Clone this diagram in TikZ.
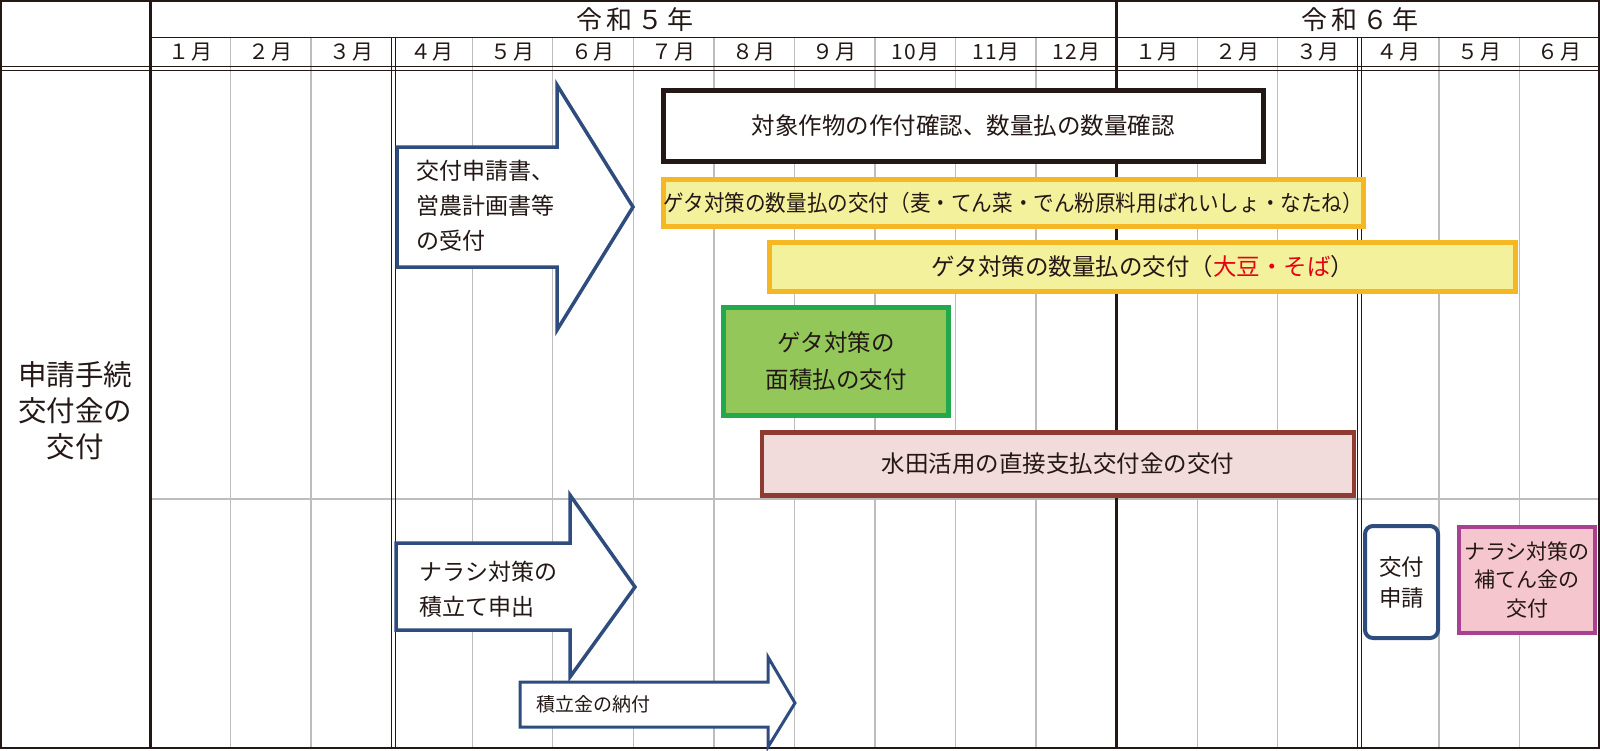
\documentclass[tikz,border=0pt]{standalone}
\usepackage{fontspec}
\setmainfont{Noto Sans CJK JP}
\definecolor{ink}{HTML}{231815}
\definecolor{navy}{HTML}{2F4C7E}
\definecolor{gridgray}{HTML}{BDBDBD}
\definecolor{yelfill}{HTML}{F4F19C}
\definecolor{yelline}{HTML}{F5B823}
\definecolor{grnfill}{HTML}{93C75A}
\definecolor{grnline}{HTML}{22A94C}
\definecolor{brnfill}{HTML}{F2DCDB}
\definecolor{brnline}{HTML}{8E3B33}
\definecolor{magfill}{HTML}{F5C6CD}
\definecolor{magline}{HTML}{A8418F}
\definecolor{redtxt}{HTML}{E60012}
\newcommand{\fsz}[1]{\fontsize{#1}{#1}\selectfont}
\begin{document}
\begin{tikzpicture}[x=1pt, y=-1pt, text=ink,
    gridline/.style={draw=gridgray, line width=1.3pt},
    rule/.style={draw=ink, line width=1.2pt},
    blockarrow/.style={draw=navy, line width=3.5pt, fill=white, line join=miter},
    bar/.style={draw, line width=5pt, inner sep=0pt, align=center},
    month/.style={font=\fsz{21}\addfontfeature{LetterSpace=8}},
    arrowtext/.style={anchor=west, align=left, font=\fontsize{23}{35}\selectfont}]
\useasboundingbox (0,0) rectangle (1600,750);

% grid
\foreach \i in {1,2,4,5,6,7,8,9,10,11,13,14,16,17}
    \draw[gridline] ({150+\i*80.556},37.7) -- ({150+\i*80.556},748);
\draw[gridline] (150,499) -- (1600,499);

% frame and header rules
\draw[rule, line width=1.6pt] (0.8,0.8) rectangle (1599.2,748.2);
\draw[rule] (150,37.7) -- (1600,37.7);
\draw[rule] (0,66.7) -- (1600,66.7);
\draw[rule] (0,70.2) -- (1600,70.2);
\draw[rule, line width=3pt] (150.5,0) -- (150.5,748);
\draw[rule, line width=2.8pt] (1116.7,0) -- (1116.7,748);
\foreach \x in {391.7,395.2,1357.8,1361.3}
    \draw[rule] (\x,37.7) -- (\x,748);

% header texts
\node[font=\fsz{26}\addfontfeature{LetterSpace=16}] (r5) at (635,20) {令和５年};
\node[font=\fsz{26}\addfontfeature{LetterSpace=16}] (r6) at (1360,20) {令和６年};
\foreach \m [count=\i] in {１月,２月,３月,４月,５月,６月,７月,８月,９月,10月,11月,12月,１月,２月,３月,４月,５月,６月}
    \node[month] (m\i) at ({150+(\i-0.5)*80.556},52) {\m};

\node[font=\fontsize{28.5}{36}\selectfont, align=center] (proc) at (75,411) {申請手続\\交付金の\\交付};

% upper section
\draw[blockarrow] (397,147) -- (557,147) -- (557,85) -- (633,207) -- (557,330)
    -- (557,267) -- (397,267) -- cycle;
\node[arrowtext] (apply) at (413,206) {交付申請書、\\営農計画書等\\の受付};

\node[bar, draw=ink, fill=white, minimum width=600pt, minimum height=71pt,
    font=\fsz{23.5}] (check) at (963,125.5) {対象作物の作付確認、数量払の数量確認};
\node[bar, draw=yelline, fill=yelfill, minimum width=699pt, minimum height=47pt,
    font=\fsz{22.5}] (geta1) at (1013,203)
    {\scalebox{0.915}[1]{ゲタ対策の数量払の交付（麦・てん菜・でん粉原料用ばれいしょ・なたね）}};
\node[bar, draw=yelline, fill=yelfill, minimum width=746pt, minimum height=49pt,
    font=\fsz{23.5}] (geta2) at (1142.5,267)
    {ゲタ対策の数量払の交付（\textcolor{redtxt}{大豆・そば}）};
\node[bar, draw=grnline, fill=grnfill, minimum width=225pt, minimum height=108pt,
    font=\fontsize{23.5}{37}\selectfont] (geta3) at (836,361) {ゲタ対策の\\面積払の交付};
\node[bar, draw=brnline, line width=4.5pt, fill=brnfill, minimum width=592pt,
    minimum height=63pt, font=\fsz{23.5}] (paddy) at (1058,464) {水田活用の直接支払交付金の交付};

% lower section
\draw[blockarrow] (396,543) -- (570,543) -- (570,495) -- (635,587) -- (570,677)
    -- (570,630) -- (396,630) -- cycle;
\node[arrowtext] (narashi) at (416,589) {ナラシ対策の\\積立て申出};
\draw[blockarrow, line width=3pt] (520,682) -- (768,682) -- (768,657) -- (795,703)
    -- (768,747) -- (768,727) -- (520,727) -- cycle;
\node[anchor=west, font=\fsz{19}] (pay) at (533,704) {積立金の納付};

\node[bar, draw=navy, line width=4pt, fill=white, rounded corners=8pt,
    minimum width=73pt, minimum height=112pt, font=\fontsize{22.5}{31}\selectfont]
    (req) at (1401.5,582) {交付\\申請};
\node[bar, draw=magline, fill=magfill, line width=4.5pt, minimum width=136pt,
    minimum height=106pt, font=\fontsize{21}{28.5}\selectfont]
    (comp) at (1527,580) {ナラシ対策の\\補てん金の\\交付};
\end{tikzpicture}
\end{document}
